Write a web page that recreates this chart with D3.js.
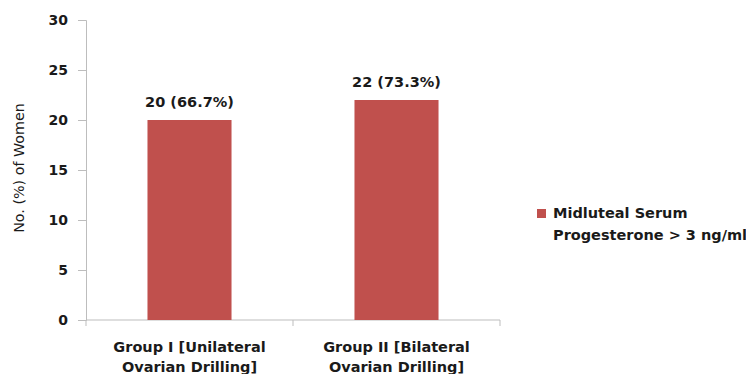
<!DOCTYPE html>
<html>
<head>
<meta charset="utf-8">
<script src="https://cdn.jsdelivr.net/npm/d3@7"></script>
<style>
  body { margin: 0; background: #fff; }
  text { font-family: "DejaVu Sans", sans-serif; fill: #1a1a1a; }
</style>
</head>
<body>
<script>
// data
var groups = ["Group I [Unilateral|Ovarian Drilling]", "Group II [Bilateral|Ovarian Drilling]"];
var values = [20, 22];
var valueLabels = ["20 (66.7%)", "22 (73.3%)"];
var yTicks = [0, 5, 10, 15, 20, 25, 30];
var seriesName = ["Midluteal Serum", "Progesterone > 3 ng/ml"];

var W = 746, H = 374;
var margin = {top: 20, left: 86},
    width = 414,
    height = 300;

var svg = d3.select("body").append("svg")
    .attr("width", W)
    .attr("height", H);

var g = svg.append("g")
    .attr("transform", "translate(" + margin.left + "," + margin.top + ")");

var x = d3.scaleBand().domain(groups).range([0, width]).padding(0);
var y = d3.scaleLinear().domain([0, 30]).range([height, 0]);

var barW = x.bandwidth() * 0.406;

// y axis
var yAxis = g.append("g")
    .call(d3.axisLeft(y).tickValues(yTicks).tickSize(8).tickPadding(10));
yAxis.select(".domain").attr("stroke", "#bdbdbd");
yAxis.selectAll(".tick line").attr("stroke", "#bdbdbd");
yAxis.selectAll(".tick text")
    .style("font-family", "DejaVu Sans").style("font-size", "14px")
    .style("font-weight", "bold").attr("fill", "#1a1a1a");

// x axis line with ticks at band edges
var xAxis = g.append("g").attr("transform", "translate(0," + height + ")");
xAxis.append("line").attr("x1", 0).attr("x2", width).attr("stroke", "#bdbdbd");
var edges = [0].concat(groups.map(function(d) { return x(d) + x.bandwidth(); }));
xAxis.selectAll(".edge").data(edges).enter().append("line")
    .attr("x1", function(d) { return d; }).attr("x2", function(d) { return d; })
    .attr("y1", 0).attr("y2", 6).attr("stroke", "#bdbdbd");

// x labels
groups.forEach(function(gname) {
  var t = xAxis.append("text")
      .attr("x", x(gname) + x.bandwidth() / 2)
      .attr("text-anchor", "middle")
      .style("font-size", "14.5px").style("font-weight", "bold");
  gname.split("|").forEach(function(line, i) {
    t.append("tspan").attr("x", x(gname) + x.bandwidth() / 2)
        .attr("y", 32 + i * 20).text(line);
  });
});

// bars
g.selectAll(".bar").data(values).enter().append("rect")
    .attr("x", function(d, i) { return x(groups[i]) + (x.bandwidth() - barW) / 2; })
    .attr("y", function(d) { return y(d); })
    .attr("width", barW)
    .attr("height", function(d) { return height - y(d); })
    .attr("fill", "#c0504d");

// value labels
g.selectAll(".vlab").data(values).enter().append("text")
    .attr("x", function(d, i) { return x(groups[i]) + x.bandwidth() / 2; })
    .attr("y", function(d) { return y(d) - 13; })
    .attr("text-anchor", "middle")
    .style("font-size", "14.5px").style("font-weight", "bold")
    .text(function(d, i) { return valueLabels[i]; });

// y title
svg.append("text")
    .attr("transform", "translate(24,168) rotate(-90)")
    .attr("text-anchor", "middle")
    .style("font-size", "14.3px")
    .text("No. (%) of Women");

// legend
var leg = svg.append("g").attr("transform", "translate(537,209)");
leg.append("rect").attr("width", 9).attr("height", 9).attr("fill", "#c0504d");
seriesName.forEach(function(s, i) {
  leg.append("text").attr("x", 16).attr("y", 9 + i * 22)
      .style("font-size", "14.5px").style("font-weight", "bold").text(s);
});
</script>
</body>
</html>
